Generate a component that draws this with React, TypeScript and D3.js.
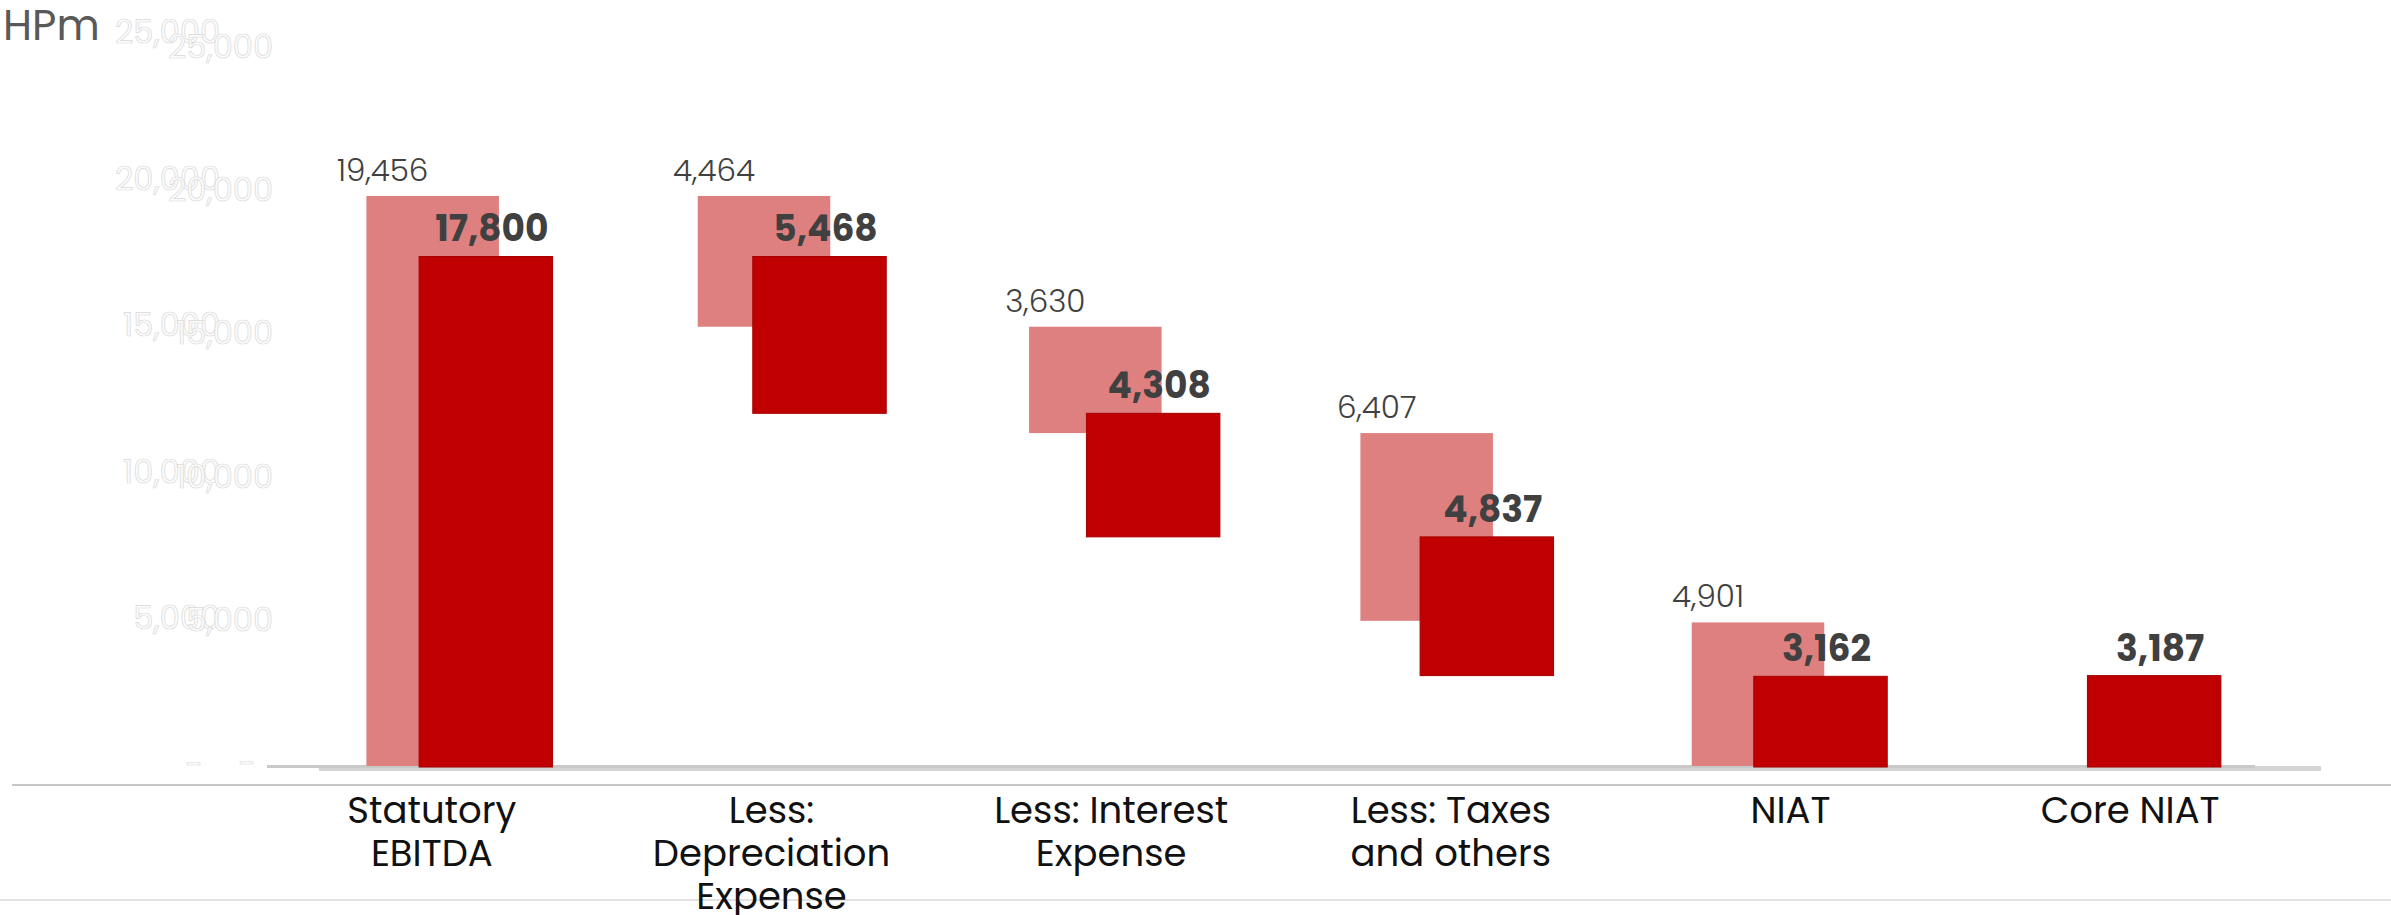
import React from "react";
import * as d3 from "d3";

const categoryLines: string[][] = [
  ["Statutory", "EBITDA"],
  ["Less:", "Depreciation", "Expense"],
  ["Less: Interest", "Expense"],
  ["Less: Taxes", "and others"],
  ["NIAT"],
  ["Core NIAT"],
];
const barKinds = ["total", "decrease", "decrease", "decrease", "total", "total"];
const priorValues: (number | null)[] = [19456, 4464, 3630, 6407, 4901, null];
const currentValues: (number | null)[] = [17800, 5468, 4308, 4837, 3162, 3187];
const yTicks = [0, 5000, 10000, 15000, 20000, 25000];
const unitLabel = "HPm";

const W = 2391;
const H = 915;
const FONT = "Poppins, 'Open Sans', sans-serif";

type Seg = { i: number; v: number; lo: number; hi: number };

function waterfall(values: (number | null)[]): Seg[] {
  const out: Seg[] = [];
  let running = 0;
  values.forEach((v, i) => {
    if (v == null) return;
    if (barKinds[i] === "total") {
      running = v;
      out.push({ i, v, lo: 0, hi: v });
    } else {
      out.push({ i, v, lo: running - v, hi: running });
      running = running - v;
    }
  });
  return out;
}

const fmt = d3.format(",");

export default function App() {
  const idx = categoryLines.map((_, i) => String(i));
  const xPrior = d3.scaleBand<string>().domain(idx).range([267, 2255]).paddingInner(0.6).paddingOuter(0.3);
  const xCur = d3.scaleBand<string>().domain(idx).range([319, 2321]).paddingInner(0.6).paddingOuter(0.3);
  const xLab = d3.scaleBand<string>().domain(idx).range([262, 2300]).padding(0);
  const yPrior = d3.scaleLinear().domain([0, 25000]).range([766, 33.5]);
  const yCur = d3.scaleLinear().domain([0, 25000]).range([767, 50]);

  const prior = waterfall(priorValues);
  const cur = waterfall(currentValues);

  const ghost = (x: number, y: (v: number) => number, dy: number, key: string) =>
    yTicks.map((t) => (
      <text
        key={key + t}
        x={t === 0 ? x - 17 : x}
        y={y(t) + dy}
        textAnchor="end"
        dominantBaseline="central"
        fontFamily={FONT}
        fontSize={32}
        fill="#fcfcfc"
        stroke="#d9d9d9"
        strokeWidth={0.7}
      >
        {t === 0 ? "-" : fmt(t)}
      </text>
    ));

  return (
    <svg
      width={W}
      height={H}
      style={{ position: "absolute", left: 0, top: 0, background: "#fff" }}
    >
      <rect x={0} y={0} width={W} height={H} fill="#ffffff" />
      <text x={3} y={40} fontFamily={FONT} fontSize={42} fill="#595959">
        {unitLabel}
      </text>

      {ghost(220, yPrior, -2, "p")}
      {ghost(273, yCur, -4, "c")}

      {/* baselines */}
      <rect x={319} y={766} width={2321 - 319} height={5} fill="#d4d4d4" />
      <rect x={267} y={765} width={2255 - 267} height={3} fill="#c9c9c9" />

      {/* prior-year bars */}
      {prior.map((d) => (
        <rect
          key={"pb" + d.i}
          x={xPrior(String(d.i))}
          y={yPrior(d.hi)}
          width={xPrior.bandwidth()}
          height={yPrior(d.lo) - yPrior(d.hi)}
          fill="#df8080"
        />
      ))}
      {/* current bars */}
      {cur.map((d) => (
        <rect
          key={"cb" + d.i}
          x={xCur(String(d.i))}
          y={yCur(d.hi)}
          width={xCur.bandwidth()}
          height={yCur(d.lo) - yCur(d.hi)}
          fill="#c00000"
          stroke="#a80000"
          strokeWidth={1}
        />
      ))}

      {/* value labels */}
      {prior.map((d) => (
        <text
          key={"pl" + d.i}
          x={(xPrior(String(d.i)) as number) + xPrior.bandwidth() / 2 - 50}
          y={yPrior(d.hi) - 15}
          textAnchor="middle"
          fontFamily={FONT}
          fontSize={31}
          fontWeight={300}
          fill="#404040"
        >
          {fmt(d.v)}
        </text>
      ))}
      {cur.map((d) => (
        <text
          key={"cl" + d.i}
          x={(xCur(String(d.i)) as number) + xCur.bandwidth() / 2 + 6}
          y={yCur(d.hi) - 15}
          textAnchor="middle"
          fontFamily={FONT}
          fontSize={36}
          fontWeight={700}
          fill="#404040"
        >
          {fmt(d.v)}
        </text>
      ))}

      {/* separator lines */}
      <rect x={12} y={784} width={W - 12} height={2} fill="#c6c6c6" />
      <rect x={0} y={899} width={W} height={2} fill="#e2e2e2" />

      {/* category labels */}
      {categoryLines.map((lines, i) => (
        <text
          key={"cat" + i}
          x={(xLab(String(i)) as number) + xLab.bandwidth() / 2}
          y={823}
          textAnchor="middle"
          fontFamily={FONT}
          fontSize={37}
          fill="#111111"
        >
          {lines.map((ln, j) => (
            <tspan key={j} x={(xLab(String(i)) as number) + xLab.bandwidth() / 2} dy={j === 0 ? 0 : 43}>
              {ln}
            </tspan>
          ))}
        </text>
      ))}
    </svg>
  );
}
